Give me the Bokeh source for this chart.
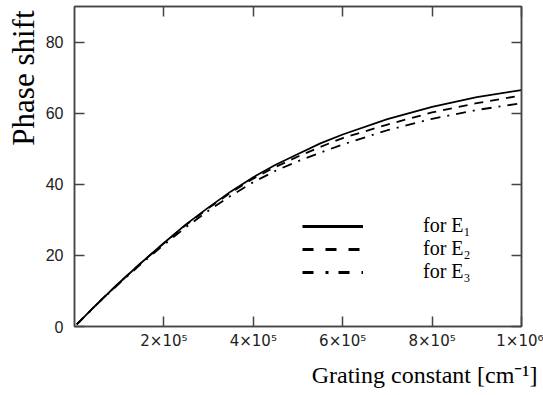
from bokeh.plotting import figure
from bokeh.models import (Range1d, LinearAxis, FixedTicker, Legend, LegendItem, Title,
                          CustomJSTickFormatter)
from bokeh.embed import file_html
from bokeh.resources import INLINE

# ---- data ----
grating = [5e3, 5e4, 1e5, 1.5e5, 2e5, 2.5e5, 3e5, 3.5e5, 4e5, 4.5e5, 5e5,
           5.5e5, 6e5, 7e5, 8e5, 9e5, 1e6]
phase_e1 = [0.6, 6.3, 12.3, 18.0, 23.5, 28.8, 33.5, 38.0, 42.0, 45.5, 48.5,
            51.5, 54.0, 58.3, 61.8, 64.5, 66.5]
phase_e2 = [0.6, 6.3, 12.3, 18.0, 23.4, 28.6, 33.3, 37.7, 41.6, 44.9, 47.8,
            50.5, 53.0, 56.8, 60.2, 62.8, 65.0]
phase_e3 = [0.6, 6.2, 12.1, 17.7, 23.0, 28.0, 32.6, 36.8, 40.6, 43.8, 46.5,
            48.9, 51.2, 55.2, 58.4, 60.9, 62.8]

x_ticks = [2e5, 4e5, 6e5, 8e5, 1e6]
x_tick_labels = ["2×10⁵", "4×10⁵", "6×10⁵", "8×10⁵", "1×10⁶"]
y_ticks = [0, 20, 40, 60, 80]
series_labels = ["for E₁", "for E₂", "for E₃"]

AX = "#444444"

p = figure(width=543, height=395, x_range=Range1d(0, 1e6), y_range=Range1d(0, 90),
           output_backend="svg", toolbar_location=None,
           min_border_left=74, min_border_right=22, min_border_top=6, min_border_bottom=69)
p.xgrid.visible = False
p.ygrid.visible = False
p.outline_line_color = AX
p.outline_line_width = 1.5
p.background_fill_color = "white"
p.border_fill_color = "white"

xa = p.xaxis[0]
xa.ticker = FixedTicker(ticks=x_ticks)
xa.major_label_overrides = {t: l for t, l in zip(x_ticks, x_tick_labels)}
ya = p.yaxis[0]
ya.ticker = FixedTicker(ticks=y_ticks)

top = LinearAxis(ticker=FixedTicker(ticks=x_ticks), formatter=CustomJSTickFormatter(code="return ''"))
right = LinearAxis(ticker=FixedTicker(ticks=y_ticks), formatter=CustomJSTickFormatter(code="return ''"))
p.add_layout(top, "above")
p.add_layout(right, "right")

for ax in (xa, ya, top, right):
    ax.axis_line_color = AX
    ax.axis_line_width = 1.5
    ax.major_tick_line_color = AX
    ax.major_tick_line_width = 1.5
    ax.major_tick_in = 10
    ax.major_tick_out = 0
    ax.minor_tick_line_color = None
    ax.major_label_text_color = "#222222"
for ax in (top, right):
    ax.major_label_standoff = 0
    ax.major_label_text_font_size = "1px"
xa.major_label_text_font = "DejaVu Sans"
xa.major_label_text_font_size = "15px"
xa.major_label_standoff = 5
ya.major_label_text_font = "Liberation Sans"
ya.major_label_text_font_size = "16px"
ya.major_label_standoff = 11

p.add_layout(Title(text="Phase shift", align="right", offset=4, standoff=4,
                   text_font="Liberation Serif", text_font_size="31px",
                   text_font_style="normal", text_color="black"), "left")
p.add_layout(Title(text="Grating constant [cm⁻¹]", align="right", offset=-16, standoff=14,
                   text_font="Liberation Serif", text_font_size="24px",
                   text_font_style="normal", text_color="black"), "below")

dashes = ["solid", "9 7", "10 7 2 7"]
for ys, d in zip([phase_e1, phase_e2, phase_e3], dashes):
    p.line(grating, ys, line_color="black", line_width=1.8, line_dash=d)

nan = float("nan")
leg_dashes = ["solid", "11 12", "11 12 3 10"]
leg_renderers = [p.line([nan], [nan], line_color="black", line_width=3, line_dash=d)
                 for d in leg_dashes]
legend = Legend(items=[LegendItem(label=l, renderers=[r]) for l, r in zip(series_labels, leg_renderers)],
                location=(228, 43), orientation="vertical",
                glyph_width=61, glyph_height=20, label_height=20, label_standoff=60,
                spacing=0, padding=0, margin=0, border_line_color=None,
                background_fill_alpha=0, label_text_font="Liberation Serif",
                label_text_font_size="20px", label_text_color="black")
p.add_layout(legend, "center")

open("out.html", "w").write(file_html(p, INLINE))
